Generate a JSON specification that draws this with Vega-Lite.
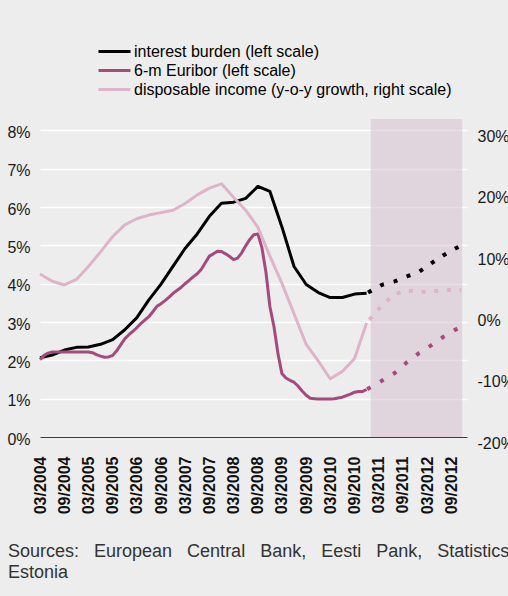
{
  "$schema": "https://vega.github.io/schema/vega-lite/v6.json",
  "width": 427,
  "height": 318,
  "autosize": {"type": "none"},
  "padding": {"left": 40, "top": 119, "right": 41, "bottom": 159},
  "background": "#ECEDEC",
  "config": {
    "view": {"stroke": null},
    "font": "Liberation Sans",
    "axisX": {
      "labelOverlap": false,
      "labelSeparation": 0,
      "labelFlush": false,
      "labelBound": false,
      "labelAngle": -90,
      "labelFont": "Liberation Sans",
      "labelFontWeight": "bold",
      "labelFontSize": 16,
      "labelColor": "#111111",
      "labelPadding": 19,
      "ticks": false,
      "grid": false,
      "domain": true,
      "domainColor": "#3A3A3A",
      "domainWidth": 1.2,
      "zindex": 2,
      "title": null,
      "tickCount": 40
    },
    "legend": {
      "title": null,
      "orient": "none",
      "legendX": 63.5,
      "legendY": -78.5,
      "symbolType": "M-1.684,0L1.684,0",
      "symbolSize": 361,
      "symbolStrokeWidth": 3,
      "symbolDash": [],
      "labelFont": "Liberation Sans",
      "labelFontSize": 16,
      "labelColor": "#000000",
      "labelOffset": 8.5,
      "rowPadding": 0,
      "padding": 0,
      "labelLimit": 500
    }
  },
  "title": {
    "text": ["Sources:\u00a0\u00a0\u00a0European\u00a0\u00a0\u00a0Central\u00a0\u00a0\u00a0Bank,\u00a0\u00a0\u00a0Eesti\u00a0\u00a0\u00a0Pank,\u00a0\u00a0\u00a0Statistics", "Estonia"],
    "orient": "bottom",
    "anchor": "start",
    "frame": "group",
    "dx": -32,
    "offset": 29,
    "font": "Liberation Sans",
    "fontSize": 18,
    "fontWeight": "normal",
    "color": "#333333",
    "lineHeight": 21
  },
  "datasets": {
    "shade": [{"start": "2011/01/01", "end": "2012/11/22"}],
    "left": [
      {"date": "2004/03/01", "series": "interest burden (left scale)", "kind": "actual", "value": 2.07},
      {"date": "2004/06/01", "series": "interest burden (left scale)", "kind": "actual", "value": 2.14},
      {"date": "2004/09/01", "series": "interest burden (left scale)", "kind": "actual", "value": 2.27},
      {"date": "2004/12/01", "series": "interest burden (left scale)", "kind": "actual", "value": 2.34},
      {"date": "2005/03/01", "series": "interest burden (left scale)", "kind": "actual", "value": 2.35},
      {"date": "2005/06/01", "series": "interest burden (left scale)", "kind": "actual", "value": 2.42},
      {"date": "2005/09/01", "series": "interest burden (left scale)", "kind": "actual", "value": 2.54},
      {"date": "2005/12/01", "series": "interest burden (left scale)", "kind": "actual", "value": 2.80},
      {"date": "2006/03/01", "series": "interest burden (left scale)", "kind": "actual", "value": 3.11},
      {"date": "2006/06/01", "series": "interest burden (left scale)", "kind": "actual", "value": 3.58},
      {"date": "2006/09/01", "series": "interest burden (left scale)", "kind": "actual", "value": 3.99},
      {"date": "2006/12/01", "series": "interest burden (left scale)", "kind": "actual", "value": 4.46},
      {"date": "2007/03/01", "series": "interest burden (left scale)", "kind": "actual", "value": 4.92},
      {"date": "2007/06/01", "series": "interest burden (left scale)", "kind": "actual", "value": 5.30},
      {"date": "2007/09/01", "series": "interest burden (left scale)", "kind": "actual", "value": 5.76},
      {"date": "2007/12/01", "series": "interest burden (left scale)", "kind": "actual", "value": 6.10},
      {"date": "2008/03/01", "series": "interest burden (left scale)", "kind": "actual", "value": 6.13},
      {"date": "2008/06/01", "series": "interest burden (left scale)", "kind": "actual", "value": 6.23},
      {"date": "2008/09/01", "series": "interest burden (left scale)", "kind": "actual", "value": 6.54},
      {"date": "2008/12/01", "series": "interest burden (left scale)", "kind": "actual", "value": 6.41},
      {"date": "2009/03/01", "series": "interest burden (left scale)", "kind": "actual", "value": 5.49},
      {"date": "2009/06/01", "series": "interest burden (left scale)", "kind": "actual", "value": 4.45},
      {"date": "2009/09/01", "series": "interest burden (left scale)", "kind": "actual", "value": 3.98},
      {"date": "2009/12/01", "series": "interest burden (left scale)", "kind": "actual", "value": 3.77},
      {"date": "2010/03/01", "series": "interest burden (left scale)", "kind": "actual", "value": 3.64},
      {"date": "2010/06/01", "series": "interest burden (left scale)", "kind": "actual", "value": 3.64},
      {"date": "2010/09/01", "series": "interest burden (left scale)", "kind": "actual", "value": 3.73},
      {"date": "2010/12/01", "series": "interest burden (left scale)", "kind": "actual", "value": 3.75},
      {"date": "2010/12/01", "series": "interest burden (left scale)", "kind": "forecast", "value": 3.75},
      {"date": "2011/04/01", "series": "interest burden (left scale)", "kind": "forecast", "value": 3.98},
      {"date": "2011/07/01", "series": "interest burden (left scale)", "kind": "forecast", "value": 4.06},
      {"date": "2011/10/01", "series": "interest burden (left scale)", "kind": "forecast", "value": 4.19},
      {"date": "2012/01/01", "series": "interest burden (left scale)", "kind": "forecast", "value": 4.31},
      {"date": "2012/04/01", "series": "interest burden (left scale)", "kind": "forecast", "value": 4.53},
      {"date": "2012/07/01", "series": "interest burden (left scale)", "kind": "forecast", "value": 4.74},
      {"date": "2012/10/01", "series": "interest burden (left scale)", "kind": "forecast", "value": 4.92},
      {"date": "2012/11/15", "series": "interest burden (left scale)", "kind": "forecast", "value": 5.00},
      {"date": "2004/03/01", "series": "6-m Euribor (left scale)", "kind": "actual", "value": 2.02},
      {"date": "2004/04/01", "series": "6-m Euribor (left scale)", "kind": "actual", "value": 2.13},
      {"date": "2004/05/01", "series": "6-m Euribor (left scale)", "kind": "actual", "value": 2.19},
      {"date": "2004/06/01", "series": "6-m Euribor (left scale)", "kind": "actual", "value": 2.22},
      {"date": "2004/07/01", "series": "6-m Euribor (left scale)", "kind": "actual", "value": 2.22},
      {"date": "2004/08/01", "series": "6-m Euribor (left scale)", "kind": "actual", "value": 2.22},
      {"date": "2004/09/01", "series": "6-m Euribor (left scale)", "kind": "actual", "value": 2.22},
      {"date": "2004/10/01", "series": "6-m Euribor (left scale)", "kind": "actual", "value": 2.22},
      {"date": "2004/11/01", "series": "6-m Euribor (left scale)", "kind": "actual", "value": 2.22},
      {"date": "2004/12/01", "series": "6-m Euribor (left scale)", "kind": "actual", "value": 2.22},
      {"date": "2005/01/01", "series": "6-m Euribor (left scale)", "kind": "actual", "value": 2.22},
      {"date": "2005/02/01", "series": "6-m Euribor (left scale)", "kind": "actual", "value": 2.22},
      {"date": "2005/03/01", "series": "6-m Euribor (left scale)", "kind": "actual", "value": 2.22},
      {"date": "2005/04/01", "series": "6-m Euribor (left scale)", "kind": "actual", "value": 2.20},
      {"date": "2005/05/01", "series": "6-m Euribor (left scale)", "kind": "actual", "value": 2.15},
      {"date": "2005/06/01", "series": "6-m Euribor (left scale)", "kind": "actual", "value": 2.11},
      {"date": "2005/07/01", "series": "6-m Euribor (left scale)", "kind": "actual", "value": 2.08},
      {"date": "2005/08/01", "series": "6-m Euribor (left scale)", "kind": "actual", "value": 2.09},
      {"date": "2005/09/01", "series": "6-m Euribor (left scale)", "kind": "actual", "value": 2.13},
      {"date": "2005/10/01", "series": "6-m Euribor (left scale)", "kind": "actual", "value": 2.25},
      {"date": "2005/11/01", "series": "6-m Euribor (left scale)", "kind": "actual", "value": 2.41},
      {"date": "2005/12/01", "series": "6-m Euribor (left scale)", "kind": "actual", "value": 2.56},
      {"date": "2006/01/01", "series": "6-m Euribor (left scale)", "kind": "actual", "value": 2.67},
      {"date": "2006/02/01", "series": "6-m Euribor (left scale)", "kind": "actual", "value": 2.76},
      {"date": "2006/03/01", "series": "6-m Euribor (left scale)", "kind": "actual", "value": 2.85},
      {"date": "2006/04/01", "series": "6-m Euribor (left scale)", "kind": "actual", "value": 2.96},
      {"date": "2006/05/01", "series": "6-m Euribor (left scale)", "kind": "actual", "value": 3.05},
      {"date": "2006/06/01", "series": "6-m Euribor (left scale)", "kind": "actual", "value": 3.14},
      {"date": "2006/07/01", "series": "6-m Euribor (left scale)", "kind": "actual", "value": 3.27},
      {"date": "2006/08/01", "series": "6-m Euribor (left scale)", "kind": "actual", "value": 3.41},
      {"date": "2006/09/01", "series": "6-m Euribor (left scale)", "kind": "actual", "value": 3.48},
      {"date": "2006/10/01", "series": "6-m Euribor (left scale)", "kind": "actual", "value": 3.56},
      {"date": "2006/11/01", "series": "6-m Euribor (left scale)", "kind": "actual", "value": 3.65},
      {"date": "2006/12/01", "series": "6-m Euribor (left scale)", "kind": "actual", "value": 3.75},
      {"date": "2007/01/01", "series": "6-m Euribor (left scale)", "kind": "actual", "value": 3.83},
      {"date": "2007/02/01", "series": "6-m Euribor (left scale)", "kind": "actual", "value": 3.91},
      {"date": "2007/03/01", "series": "6-m Euribor (left scale)", "kind": "actual", "value": 4.00},
      {"date": "2007/04/01", "series": "6-m Euribor (left scale)", "kind": "actual", "value": 4.09},
      {"date": "2007/05/01", "series": "6-m Euribor (left scale)", "kind": "actual", "value": 4.18},
      {"date": "2007/06/01", "series": "6-m Euribor (left scale)", "kind": "actual", "value": 4.26},
      {"date": "2007/07/01", "series": "6-m Euribor (left scale)", "kind": "actual", "value": 4.37},
      {"date": "2007/08/01", "series": "6-m Euribor (left scale)", "kind": "actual", "value": 4.55},
      {"date": "2007/09/01", "series": "6-m Euribor (left scale)", "kind": "actual", "value": 4.72},
      {"date": "2007/10/01", "series": "6-m Euribor (left scale)", "kind": "actual", "value": 4.78},
      {"date": "2007/11/01", "series": "6-m Euribor (left scale)", "kind": "actual", "value": 4.85},
      {"date": "2007/12/01", "series": "6-m Euribor (left scale)", "kind": "actual", "value": 4.84},
      {"date": "2008/01/01", "series": "6-m Euribor (left scale)", "kind": "actual", "value": 4.78},
      {"date": "2008/02/01", "series": "6-m Euribor (left scale)", "kind": "actual", "value": 4.71},
      {"date": "2008/03/01", "series": "6-m Euribor (left scale)", "kind": "actual", "value": 4.63},
      {"date": "2008/04/01", "series": "6-m Euribor (left scale)", "kind": "actual", "value": 4.67},
      {"date": "2008/05/01", "series": "6-m Euribor (left scale)", "kind": "actual", "value": 4.80},
      {"date": "2008/06/01", "series": "6-m Euribor (left scale)", "kind": "actual", "value": 4.99},
      {"date": "2008/07/01", "series": "6-m Euribor (left scale)", "kind": "actual", "value": 5.15},
      {"date": "2008/08/01", "series": "6-m Euribor (left scale)", "kind": "actual", "value": 5.28},
      {"date": "2008/09/01", "series": "6-m Euribor (left scale)", "kind": "actual", "value": 5.30},
      {"date": "2008/10/01", "series": "6-m Euribor (left scale)", "kind": "actual", "value": 4.95},
      {"date": "2008/11/01", "series": "6-m Euribor (left scale)", "kind": "actual", "value": 4.30},
      {"date": "2008/12/01", "series": "6-m Euribor (left scale)", "kind": "actual", "value": 3.40},
      {"date": "2009/01/01", "series": "6-m Euribor (left scale)", "kind": "actual", "value": 2.87},
      {"date": "2009/02/01", "series": "6-m Euribor (left scale)", "kind": "actual", "value": 2.15},
      {"date": "2009/03/01", "series": "6-m Euribor (left scale)", "kind": "actual", "value": 1.66},
      {"date": "2009/04/01", "series": "6-m Euribor (left scale)", "kind": "actual", "value": 1.54},
      {"date": "2009/05/01", "series": "6-m Euribor (left scale)", "kind": "actual", "value": 1.48},
      {"date": "2009/06/01", "series": "6-m Euribor (left scale)", "kind": "actual", "value": 1.43},
      {"date": "2009/07/01", "series": "6-m Euribor (left scale)", "kind": "actual", "value": 1.33},
      {"date": "2009/08/01", "series": "6-m Euribor (left scale)", "kind": "actual", "value": 1.20},
      {"date": "2009/09/01", "series": "6-m Euribor (left scale)", "kind": "actual", "value": 1.09},
      {"date": "2009/10/01", "series": "6-m Euribor (left scale)", "kind": "actual", "value": 1.01},
      {"date": "2009/11/01", "series": "6-m Euribor (left scale)", "kind": "actual", "value": 1.00},
      {"date": "2009/12/01", "series": "6-m Euribor (left scale)", "kind": "actual", "value": 0.99},
      {"date": "2010/01/01", "series": "6-m Euribor (left scale)", "kind": "actual", "value": 0.99},
      {"date": "2010/02/01", "series": "6-m Euribor (left scale)", "kind": "actual", "value": 0.99},
      {"date": "2010/03/01", "series": "6-m Euribor (left scale)", "kind": "actual", "value": 0.99},
      {"date": "2010/04/01", "series": "6-m Euribor (left scale)", "kind": "actual", "value": 1.00},
      {"date": "2010/05/01", "series": "6-m Euribor (left scale)", "kind": "actual", "value": 1.02},
      {"date": "2010/06/01", "series": "6-m Euribor (left scale)", "kind": "actual", "value": 1.04},
      {"date": "2010/07/01", "series": "6-m Euribor (left scale)", "kind": "actual", "value": 1.08},
      {"date": "2010/08/01", "series": "6-m Euribor (left scale)", "kind": "actual", "value": 1.12},
      {"date": "2010/09/01", "series": "6-m Euribor (left scale)", "kind": "actual", "value": 1.17},
      {"date": "2010/10/01", "series": "6-m Euribor (left scale)", "kind": "actual", "value": 1.19},
      {"date": "2010/11/01", "series": "6-m Euribor (left scale)", "kind": "actual", "value": 1.19},
      {"date": "2010/12/01", "series": "6-m Euribor (left scale)", "kind": "actual", "value": 1.24},
      {"date": "2010/12/01", "series": "6-m Euribor (left scale)", "kind": "forecast", "value": 1.24},
      {"date": "2011/04/01", "series": "6-m Euribor (left scale)", "kind": "forecast", "value": 1.48},
      {"date": "2011/07/01", "series": "6-m Euribor (left scale)", "kind": "forecast", "value": 1.67},
      {"date": "2011/10/01", "series": "6-m Euribor (left scale)", "kind": "forecast", "value": 1.95},
      {"date": "2012/01/01", "series": "6-m Euribor (left scale)", "kind": "forecast", "value": 2.19},
      {"date": "2012/04/01", "series": "6-m Euribor (left scale)", "kind": "forecast", "value": 2.39},
      {"date": "2012/07/01", "series": "6-m Euribor (left scale)", "kind": "forecast", "value": 2.61},
      {"date": "2012/10/01", "series": "6-m Euribor (left scale)", "kind": "forecast", "value": 2.80},
      {"date": "2012/11/15", "series": "6-m Euribor (left scale)", "kind": "forecast", "value": 2.88}
    ],
    "right": [
      {"date": "2004/03/01", "series": "disposable income (y-o-y growth, right scale)", "kind": "actual", "value": 6.6},
      {"date": "2004/06/01", "series": "disposable income (y-o-y growth, right scale)", "kind": "actual", "value": 5.4},
      {"date": "2004/09/01", "series": "disposable income (y-o-y growth, right scale)", "kind": "actual", "value": 4.8},
      {"date": "2004/12/01", "series": "disposable income (y-o-y growth, right scale)", "kind": "actual", "value": 5.7},
      {"date": "2005/03/01", "series": "disposable income (y-o-y growth, right scale)", "kind": "actual", "value": 7.8},
      {"date": "2005/06/01", "series": "disposable income (y-o-y growth, right scale)", "kind": "actual", "value": 10.2},
      {"date": "2005/09/01", "series": "disposable income (y-o-y growth, right scale)", "kind": "actual", "value": 12.7},
      {"date": "2005/12/01", "series": "disposable income (y-o-y growth, right scale)", "kind": "actual", "value": 14.6},
      {"date": "2006/03/01", "series": "disposable income (y-o-y growth, right scale)", "kind": "actual", "value": 15.6},
      {"date": "2006/06/01", "series": "disposable income (y-o-y growth, right scale)", "kind": "actual", "value": 16.2},
      {"date": "2006/09/01", "series": "disposable income (y-o-y growth, right scale)", "kind": "actual", "value": 16.6},
      {"date": "2006/12/01", "series": "disposable income (y-o-y growth, right scale)", "kind": "actual", "value": 17.0},
      {"date": "2007/03/01", "series": "disposable income (y-o-y growth, right scale)", "kind": "actual", "value": 18.1},
      {"date": "2007/06/01", "series": "disposable income (y-o-y growth, right scale)", "kind": "actual", "value": 19.5},
      {"date": "2007/09/01", "series": "disposable income (y-o-y growth, right scale)", "kind": "actual", "value": 20.6},
      {"date": "2007/12/01", "series": "disposable income (y-o-y growth, right scale)", "kind": "actual", "value": 21.3},
      {"date": "2008/03/01", "series": "disposable income (y-o-y growth, right scale)", "kind": "actual", "value": 19.1},
      {"date": "2008/06/01", "series": "disposable income (y-o-y growth, right scale)", "kind": "actual", "value": 17.0},
      {"date": "2008/09/01", "series": "disposable income (y-o-y growth, right scale)", "kind": "actual", "value": 14.2},
      {"date": "2008/12/01", "series": "disposable income (y-o-y growth, right scale)", "kind": "actual", "value": 9.5},
      {"date": "2009/03/01", "series": "disposable income (y-o-y growth, right scale)", "kind": "actual", "value": 5.1},
      {"date": "2009/06/01", "series": "disposable income (y-o-y growth, right scale)", "kind": "actual", "value": 0.1},
      {"date": "2009/09/01", "series": "disposable income (y-o-y growth, right scale)", "kind": "actual", "value": -4.9},
      {"date": "2009/12/01", "series": "disposable income (y-o-y growth, right scale)", "kind": "actual", "value": -7.6},
      {"date": "2010/03/01", "series": "disposable income (y-o-y growth, right scale)", "kind": "actual", "value": -10.5},
      {"date": "2010/06/01", "series": "disposable income (y-o-y growth, right scale)", "kind": "actual", "value": -9.3},
      {"date": "2010/09/01", "series": "disposable income (y-o-y growth, right scale)", "kind": "actual", "value": -7.2},
      {"date": "2010/12/01", "series": "disposable income (y-o-y growth, right scale)", "kind": "actual", "value": -1.4},
      {"date": "2010/12/01", "series": "disposable income (y-o-y growth, right scale)", "kind": "forecast", "value": -1.4},
      {"date": "2011/04/01", "series": "disposable income (y-o-y growth, right scale)", "kind": "forecast", "value": 1.6},
      {"date": "2011/07/01", "series": "disposable income (y-o-y growth, right scale)", "kind": "forecast", "value": 3.3},
      {"date": "2011/10/01", "series": "disposable income (y-o-y growth, right scale)", "kind": "forecast", "value": 3.9},
      {"date": "2012/01/01", "series": "disposable income (y-o-y growth, right scale)", "kind": "forecast", "value": 3.7},
      {"date": "2012/04/01", "series": "disposable income (y-o-y growth, right scale)", "kind": "forecast", "value": 3.7},
      {"date": "2012/07/01", "series": "disposable income (y-o-y growth, right scale)", "kind": "forecast", "value": 3.95},
      {"date": "2012/10/01", "series": "disposable income (y-o-y growth, right scale)", "kind": "forecast", "value": 4.0},
      {"date": "2012/11/15", "series": "disposable income (y-o-y growth, right scale)", "kind": "forecast", "value": 4.0}
    ]
  },
  "layer": [
    {
      "data": {"name": "shade"},
      "mark": {"type": "rect", "color": "#DBC5D3", "opacity": 0.6},
      "encoding": {
        "x": {
          "field": "start", "type": "temporal",
          "scale": {"domain": [{"year": 2004, "month": 3, "date": 1}, {"year": 2012, "month": 12, "date": 28}]},
          "axis": {
            "values": [
              {"year": 2004, "month": 3, "date": 1}, {"year": 2004, "month": 9, "date": 1},
              {"year": 2005, "month": 3, "date": 1}, {"year": 2005, "month": 9, "date": 1},
              {"year": 2006, "month": 3, "date": 1}, {"year": 2006, "month": 9, "date": 1},
              {"year": 2007, "month": 3, "date": 1}, {"year": 2007, "month": 9, "date": 1},
              {"year": 2008, "month": 3, "date": 1}, {"year": 2008, "month": 9, "date": 1},
              {"year": 2009, "month": 3, "date": 1}, {"year": 2009, "month": 9, "date": 1},
              {"year": 2010, "month": 3, "date": 1}, {"year": 2010, "month": 9, "date": 1},
              {"year": 2011, "month": 3, "date": 1}, {"year": 2011, "month": 9, "date": 1},
              {"year": 2012, "month": 3, "date": 1}, {"year": 2012, "month": 9, "date": 1}
            ],
            "format": "%m/%Y",
            "tickCount": 40,
            "labelOverlap": false,
            "labelSeparation": 0
          }
        },
        "x2": {"field": "end"}
      }
    },
    {
      "data": {"name": "left"},
      "encoding": {
        "x": {"field": "date", "type": "temporal", "axis": {"labelOverlap": false, "labelSeparation": 0, "format": "%m/%Y", "tickCount": 40}},
        "y": {
          "field": "value", "type": "quantitative",
          "scale": {"domain": [0, 8.3], "nice": false, "zero": false},
          "axis": {
            "title": null,
            "orient": "left",
            "values": [0, 1, 2, 3, 4, 5, 6, 7, 8],
            "tickCount": 20,
            "labelExpr": "datum.value + '%'",
            "grid": true,
            "gridColor": "#FFFFFF",
            "gridWidth": 1.3,
            "domain": false,
            "ticks": false,
            "labelPadding": 10,
            "labelFont": "Liberation Sans",
            "labelFontSize": 16,
            "labelColor": "#1A1A1A",
            "labelOffset": 2
          }
        },
        "color": {
          "field": "series", "type": "nominal",
          "scale": {
            "domain": ["interest burden (left scale)", "6-m Euribor (left scale)", "disposable income (y-o-y growth, right scale)"],
            "range": ["#000000", "#A64A7E", "#DDB4C9"]
          }
        }
      },
      "layer": [
        {
          "transform": [{"filter": "datum.kind == 'actual'"}],
          "mark": {"type": "line", "strokeWidth": 3, "strokeJoin": "round"}
        },
        {
          "transform": [{"filter": "datum.kind == 'forecast' && datum.series == 'interest burden (left scale)'"}],
          "mark": {"type": "line", "strokeWidth": 4, "strokeDash": [4, 10], "strokeDashOffset": 12.4, "strokeCap": "butt"}
        },
        {
          "transform": [{"filter": "datum.kind == 'forecast' && datum.series == '6-m Euribor (left scale)'"}],
          "mark": {"type": "line", "strokeWidth": 4, "strokeDash": [4, 11], "strokeDashOffset": 14.4, "strokeCap": "butt"}
        }
      ]
    },
    {
      "data": {"name": "right"},
      "encoding": {
        "x": {"field": "date", "type": "temporal", "axis": {"labelOverlap": false, "labelSeparation": 0, "format": "%m/%Y", "tickCount": 40}},
        "y": {
          "field": "value", "type": "quantitative",
          "scale": {"domain": [-20, 31.875], "nice": false, "zero": false},
          "axis": {
            "title": null,
            "orient": "right",
            "values": [-20, -10, 0, 10, 20, 30],
            "tickCount": 20,
            "labelExpr": "datum.value + '%'",
            "grid": false,
            "domain": false,
            "ticks": false,
            "labelPadding": 10,
            "labelFont": "Liberation Sans",
            "labelFontSize": 16,
            "labelColor": "#1A1A1A",
            "labelOffset": 6
          }
        },
        "color": {
          "field": "series", "type": "nominal",
          "scale": {
            "domain": ["interest burden (left scale)", "6-m Euribor (left scale)", "disposable income (y-o-y growth, right scale)"],
            "range": ["#000000", "#A64A7E", "#DDB4C9"]
          }
        }
      },
      "layer": [
        {
          "transform": [{"filter": "datum.kind == 'actual'"}],
          "mark": {"type": "line", "strokeWidth": 3, "strokeJoin": "round"}
        },
        {
          "transform": [{"filter": "datum.kind == 'forecast'"}],
          "mark": {"type": "line", "strokeWidth": 4, "strokeDash": [4, 8.7], "strokeDashOffset": 8.4, "strokeCap": "butt"}
        }
      ]
    }
  ],
  "resolve": {"scale": {"y": "independent"}}
}
